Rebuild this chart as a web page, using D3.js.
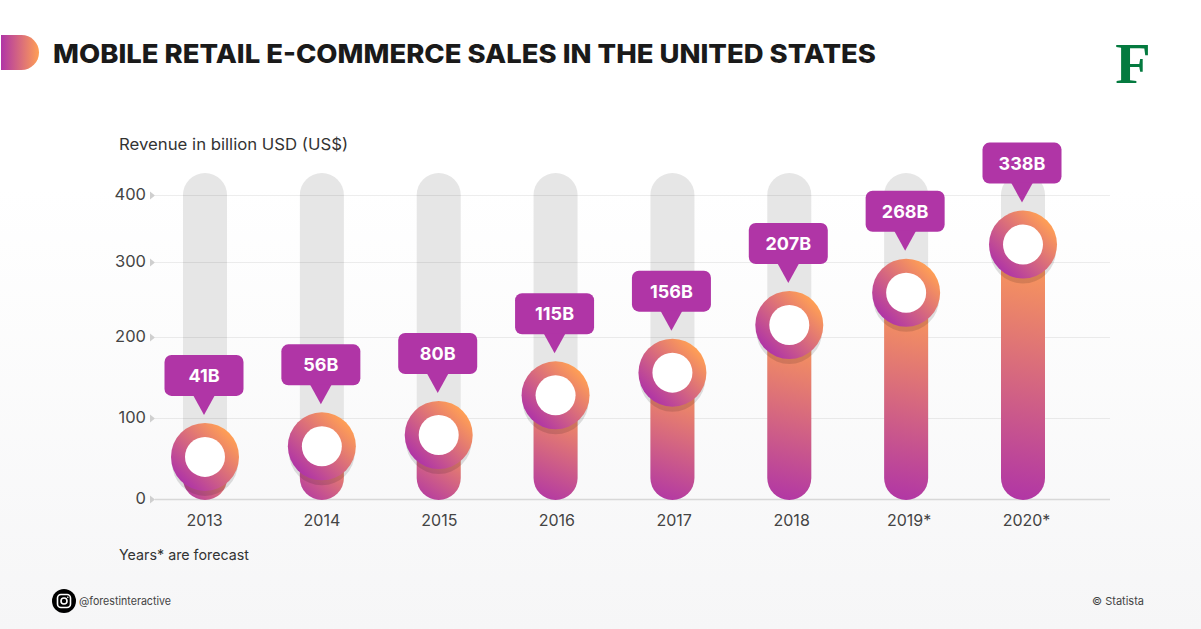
<!DOCTYPE html>
<html><head><meta charset="utf-8">
<script src="https://cdn.jsdelivr.net/npm/d3@7"></script>
<style>html,body{margin:0;padding:0;background:#fff;overflow:hidden}svg{display:block}text{font-family:Inter,"Open Sans",sans-serif}</style>
</head><body><svg id="c" width="1201" height="629"></svg>
<script>
const years=["2013","2014","2015","2016","2017","2018","2019*","2020*"];
const sales=[41,56,80,115,156,207,268,338];
// Height of each marker as it reads against the printed axis (the source infographic is not to scale)
const markerLevels=[52,65,79,128,156,216,259,326];
const yTicks=[0,100,200,300,400];
const yTickPixels=[499,418,337,262,195];
const purple="#b035a6",orange="#ff9f55";

const svg=d3.select("#c");
const defs=svg.append("defs");
function grad(id,x1,y1,x2,y2,units){
  const g=defs.append("linearGradient").attr("id",id).attr("x1",x1).attr("y1",y1).attr("x2",x2).attr("y2",y2);
  if(units) g.attr("gradientUnits",units);
  g.append("stop").attr("offset","0").attr("stop-color",purple);
  g.append("stop").attr("offset","1").attr("stop-color",orange);
}
grad("gh",0,0,1,0);grad("gd",.15,.85,.85,.15);
const bg=defs.append("linearGradient").attr("id","bg").attr("x1",0).attr("y1",0).attr("x2",0).attr("y2",1);
bg.append("stop").attr("offset",".3").attr("stop-color","#ffffff");
bg.append("stop").attr("offset","1").attr("stop-color","#f6f6f7");
svg.append("rect").attr("width",1201).attr("height",629).attr("fill","url(#bg)");

// Header tab: square left edge, round right edge
const tab=d3.path();
tab.moveTo(1,35);tab.lineTo(21.5,35);tab.arc(21.5,52.5,17.5,-Math.PI/2,Math.PI/2);tab.lineTo(1,70);tab.closePath();
svg.append("path").attr("d",tab.toString()).attr("fill","url(#gh)");
svg.append("text").attr("x",53).attr("y",63).attr("textLength",823).attr("lengthAdjust","spacingAndGlyphs")
  .attr("font-size",26).attr("font-weight",800).attr("fill","#1a1a1a").text("MOBILE RETAIL E-COMMERCE SALES IN THE UNITED STATES");
svg.append("text").attr("x",1133).attr("y",83).attr("text-anchor","middle").style("font-family","'Liberation Serif',serif")
  .attr("font-size",58).attr("font-weight",700).attr("fill","#047a3f").text("F");
svg.append("text").attr("x",119).attr("y",150).attr("textLength",229).attr("lengthAdjust","spacingAndGlyphs")
  .attr("font-size",16).attr("fill","#333").text("Revenue in billion USD (US$)");

const y=d3.scaleLinear().domain(yTicks).range(yTickPixels);
const x=d3.scalePoint().domain(years).range([205,1023]);
const xLabel=d3.scalePoint().domain(years).range([204,1026]);
const barW=44,R=34,ri=20;

// Grey tracks
svg.append("g").selectAll("rect").data(years).join("rect")
  .attr("x",d=>x(d)-barW/2).attr("width",barW).attr("y",y(400)-barW/2).attr("height",y(0)+1-y(400)+barW/2)
  .attr("rx",barW/2).attr("fill","#e6e6e6");

// Axes
const gy=svg.append("g").attr("transform","translate(155,0)")
  .call(d3.axisLeft(y).tickValues(yTicks).tickSize(0).tickPadding(9));
gy.select(".domain").remove();
gy.selectAll("text").attr("font-size",16.5).attr("fill","#444").attr("dy",".3em").style("font-family","Inter,sans-serif");
gy.selectAll(".tick").append("line").attr("x1",0).attr("x2",955).attr("stroke",d=>d===0?"#d8d8d8":"#000").attr("stroke-opacity",d=>d===0?1:.07).attr("stroke-width",d=>d===0?1.5:1);
gy.selectAll(".tick").append("path").attr("d","M-5,-4L0,0L-5,4Z").attr("fill","#cfcfcf");

const gx=svg.append("g").attr("transform","translate(0,499)")
  .call(d3.axisBottom(xLabel).tickSize(0).tickPadding(16));
gx.select(".domain").remove();
gx.selectAll("text").attr("font-size",16).attr("fill","#444").style("font-family","Inter,sans-serif");

// Coloured bars: each has its own gradient running up its height
markerLevels.forEach((d,i)=>grad("gb"+i,x(years[i])-barW/2,y(0)+1,x(years[i])+barW/2,y(d),"userSpaceOnUse"));
svg.append("g").selectAll("rect").data(markerLevels).join("rect")
  .attr("x",(d,i)=>x(years[i])-barW/2).attr("width",barW)
  .attr("y",d=>y(d)).attr("height",d=>y(0)+1-y(d)).attr("rx",barW/2)
  .attr("fill",(d,i)=>`url(#gb${i})`);

// Rings
const ring=svg.append("g").selectAll("g").data(markerLevels).join("g")
  .attr("transform",(d,i)=>`translate(${x(years[i])},${y(d)})`);
ring.append("circle").attr("cy",6).attr("r",R-1).attr("fill","#000").attr("fill-opacity",.12);
ring.append("circle").attr("r",R).attr("fill","url(#gd)");
ring.append("circle").attr("r",ri).attr("fill","#fff");

// Callouts
const c=svg.append("g").selectAll("g").data(sales).join("g")
  .attr("transform",(d,i)=>`translate(${x(years[i])-1},${y(markerLevels[i])})`);
c.append("rect").attr("x",-39.5).attr("y",-102).attr("width",79).attr("height",41).attr("rx",7).attr("fill",purple);
c.append("path").attr("d","M-11,-62L0,-42L11,-62Z").attr("fill",purple);
c.append("text").attr("y",-75).attr("text-anchor","middle").attr("font-size",18).attr("font-weight",700).attr("fill","#fff").text(d=>d+"B");

// Notes and footer
svg.append("text").attr("x",119).attr("y",560).attr("textLength",130).attr("lengthAdjust","spacingAndGlyphs")
  .attr("font-size",14.5).attr("fill","#333").text("Years* are forecast");
const ig=svg.append("g").attr("transform","translate(64,601)");
ig.append("circle").attr("r",12).attr("fill","#000");
ig.append("rect").attr("x",-6.5).attr("y",-6.5).attr("width",13).attr("height",13).attr("rx",3.5).attr("fill","none").attr("stroke","#fff").attr("stroke-width",1.6);
ig.append("circle").attr("r",3).attr("fill","none").attr("stroke","#fff").attr("stroke-width",1.6);
ig.append("circle").attr("cx",3.8).attr("cy",-3.8).attr("r",.8).attr("fill","#fff");
svg.append("text").attr("x",79).attr("y",605).attr("textLength",92).attr("lengthAdjust","spacingAndGlyphs")
  .attr("font-size",11).attr("fill","#444").text("@forestinteractive");
svg.append("text").attr("x",1144).attr("y",605).attr("text-anchor","end").attr("font-size",11).attr("fill","#444").text("© Statista");
</script></body></html>
